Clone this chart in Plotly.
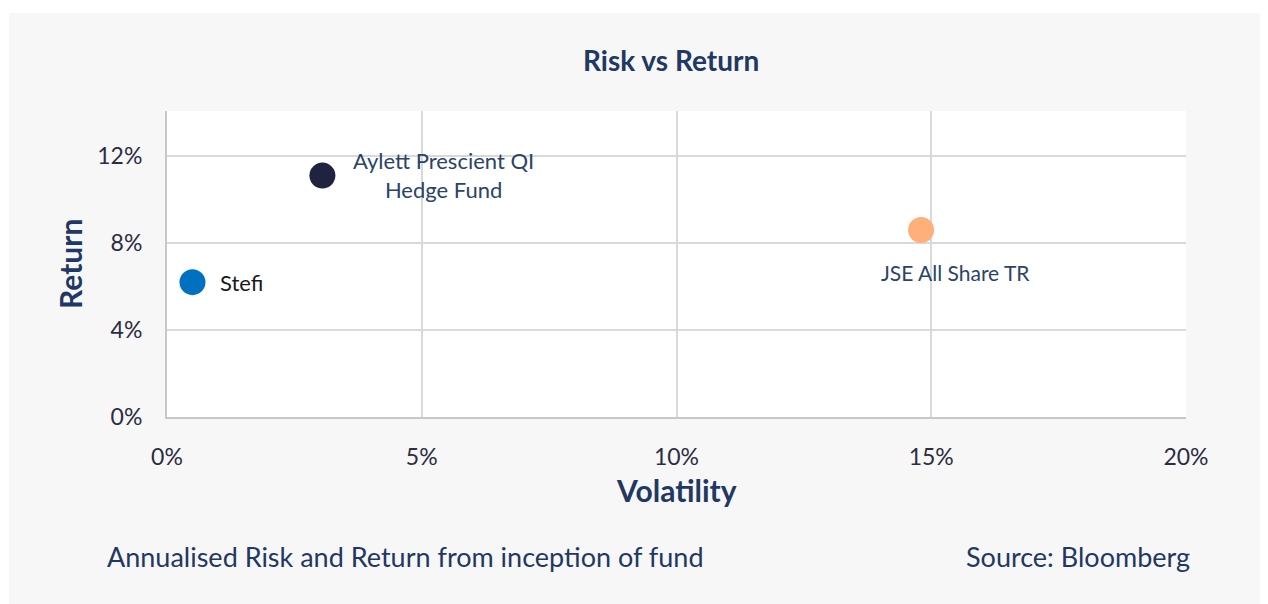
import plotly.graph_objects as go

names = ["Stefi", "Aylett Prescient QI<br>Hedge Fund", "JSE All Share TR"]
volatility = [0.5, 3.05, 14.8]
returns = [6.2, 11.1, 8.6]
colors = ["#0070c0", "#20233f", "#ffb07a"]
label_colors = ["#1a1a1a", "#2a4468", "#2a4468"]
label_shift = [(26, 0, "left"), (121, 1, "center"), (34, -43, "center")]
label_sizes = [22, 22, 21]

x_ticks = [0, 5, 10, 15, 20]
x_labels = ["0%", "5%", "10%", "15%", "20%"]
y_ticks = [0, 4, 8, 12]
y_labels = ["0%", "4%", "8%", "12%"]

FONT = "Lato"
NAVY = "#1f3864"

OFF = 8  # page body margin
W, H = 1268 - OFF, 604 - OFF
L, R, T, B = 167 - OFF, 82, 111 - OFF, 187
pw, ph = W - L - R, H - T - B

def px_x(x):
    return (x - OFF - L) / pw

def px_y(y):
    return 1 - (y - OFF - T) / ph

fig = go.Figure()
for n, x, y, c in zip(names, volatility, returns, colors):
    fig.add_trace(go.Scatter(
        x=[x], y=[y], mode="markers", name=n,
        marker=dict(size=26, color=c, line=dict(width=0)),
        hoverinfo="skip", cliponaxis=False,
    ))

for n, x, y, lc, (dx, dy, xa), fs in zip(names, volatility, returns, label_colors, label_shift, label_sizes):
    fig.add_annotation(x=x, y=y, xref="x", yref="y", text=n, showarrow=False,
                       xshift=dx, yshift=dy, xanchor=xa,
                       font=dict(family=FONT, size=fs, color=lc), align="center")

# white margin strips around the grey panel (top and left)
fig.add_shape(type="rect", xref="paper", yref="paper",
              x0=px_x(0) - 0.01, x1=1.2, y0=px_y(13), y1=px_y(0) + 0.02,
              fillcolor="white", line=dict(width=0), layer="below")
fig.add_shape(type="rect", xref="paper", yref="paper",
              x0=px_x(0) - 0.01, x1=px_x(9), y0=px_y(604) - 0.02, y1=px_y(0) + 0.02,
              fillcolor="white", line=dict(width=0), layer="below")

fig.add_annotation(xref="paper", yref="paper", x=px_x(671), y=px_y(60),
                   text="<b>Risk vs Return</b>", showarrow=False,
                   font=dict(family=FONT, size=28, color=NAVY), yanchor="middle")
fig.add_annotation(xref="paper", yref="paper", x=px_x(105), y=px_y(556),
                   text="Annualised Risk and Return from inception of fund", showarrow=False,
                   xanchor="left", yanchor="middle",
                   font=dict(family=FONT, size=27, color=NAVY))
fig.add_annotation(xref="paper", yref="paper", x=px_x(1192), y=px_y(556),
                   text="Source: Bloomberg", showarrow=False,
                   xanchor="right", yanchor="middle",
                   font=dict(family=FONT, size=27, color=NAVY))
fig.add_annotation(xref="paper", yref="paper", x=px_x(676), y=px_y(490),
                   text="<b>Volatility</b>", showarrow=False,
                   xanchor="center", yanchor="middle",
                   font=dict(family=FONT, size=30, color=NAVY))
fig.add_annotation(xref="paper", yref="paper", x=px_x(70), y=px_y(264),
                   text="<b>Return</b>", showarrow=False, textangle=-90,
                   xanchor="center", yanchor="middle",
                   font=dict(family=FONT, size=30, color=NAVY))

fig.update_layout(
    width=W, height=H,
    margin=dict(l=L, r=R, t=T, b=B),
    paper_bgcolor="#f7f7f7",
    plot_bgcolor="white",
    showlegend=False,
    xaxis=dict(range=[0, 20], tickvals=x_ticks, ticktext=x_labels,
               showgrid=True, gridcolor="#d9d9d9", gridwidth=2,
               showline=True, linecolor="#c8c8c8", linewidth=2,
               zeroline=False, ticks="", ticklabelstandoff=18,
               tickfont=dict(family=FONT, size=23, color="#2b2d42")),
    yaxis=dict(range=[0, 14.07], tickvals=y_ticks, ticktext=y_labels,
               showgrid=True, gridcolor="#d9d9d9", gridwidth=2,
               showline=True, linecolor="#c8c8c8", linewidth=2,
               zeroline=False, ticks="", ticklabelstandoff=18,
               tickfont=dict(family=FONT, size=23, color="#2b2d42")),
)

fig.write_html("out.html")
